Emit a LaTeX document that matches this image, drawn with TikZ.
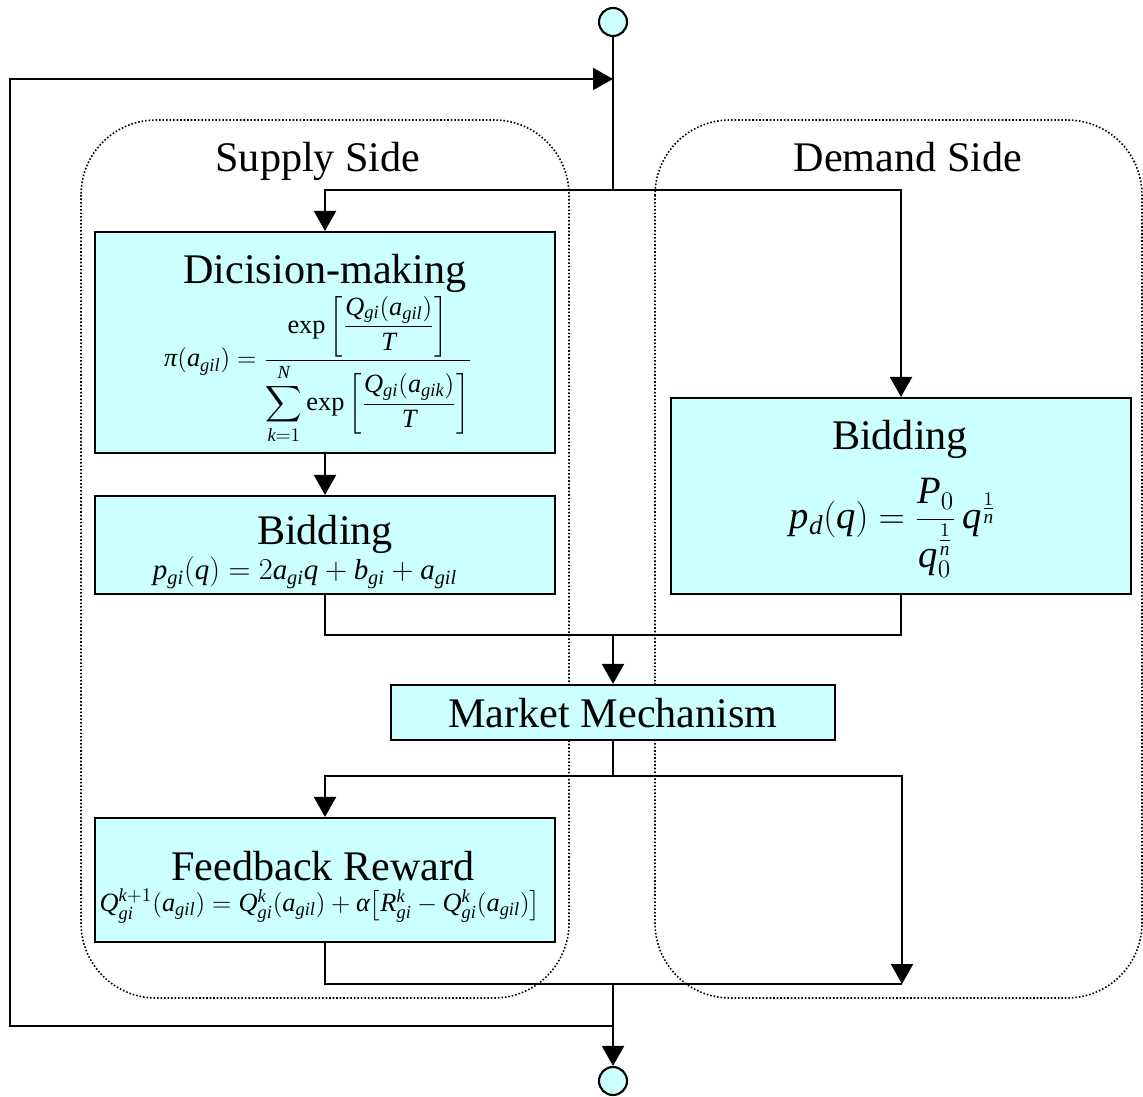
\documentclass[tikz,border=0pt]{standalone}
\usepackage{amsmath}
\usepackage{fontspec}
\setmainfont{Liberation Serif}
\usetikzlibrary{arrows.meta}
\definecolor{boxcyan}{HTML}{CCFFFF}
% italic letters from the serif text font
\newcommand\vi[1]{\mathit{#1}}
\newcommand\gpi{\text{\itshape π}}
\newcommand\galpha{\text{\itshape α}}
\tikzset{
  flow/.style={line width=1.2pt},
  arr/.style={flow, -{Triangle[length=0.4cm,width=0.44cm]}},
  stage/.style={draw, line width=1.2pt, fill=boxcyan, inner sep=0pt},
  side/.style={draw, line width=0.9pt, dash pattern=on 0.9pt off 1.1pt, rounded corners=1.5cm},
  heading/.style={font=\fontsize{24}{28}\selectfont, inner sep=0pt, anchor=base},
  formula/.style={inner sep=0pt}
}
\tikzset{
  term/.style={draw, line width=1.2pt, fill=boxcyan, circle, minimum size=0.56cm, inner sep=0pt}
}
\begin{document}
\begin{tikzpicture}[x=0.02cm, y=-0.02cm]
\useasboundingbox (0,0) rectangle (1143,1097);

% supply and demand regions
\draw[side] (81,120) rectangle (569,998);
\draw[side] (655,120) rectangle (1142,998);
\node[heading] (supplylbl) at (318,172) {Supply Side};
\node[heading] (demandlbl) at (908,172) {Demand Side};

% terminals
\node[term] (start) at (613,22) {};
\node[term] (end) at (613,1081) {};

% process boxes
\node[stage, minimum width=9.2cm, minimum height=4.42cm] (dm) at (325,342.5) {};
\node[stage, minimum width=9.2cm, minimum height=1.96cm] (sb) at (325,545) {};
\node[stage, minimum width=9.2cm, minimum height=3.92cm] (db) at (901,496) {};
\node[stage, minimum width=8.88cm, minimum height=1.1cm] (mm) at (613,712.5) {};
\node[stage, minimum width=9.2cm, minimum height=2.48cm] (fr) at (325,880) {};

% box contents
\node[heading] (dmtitle) at (325,284) {Dicision-making};
\node[formula, font=\fontsize{15}{17}\selectfont] (dmeq) at (318,370)
  {$\gpi(\vi{a}_{\vi{gil}})=\dfrac{\exp\left[\dfrac{\vi{Q}_{\vi{gi}}(\vi{a}_{\vi{gil}})}{\vi{T}}\right]}{\displaystyle\sum_{\vi{k}=1}^{\vi{N}}\exp\left[\dfrac{\vi{Q}_{\vi{gi}}(\vi{a}_{\vi{gik}})}{\vi{T}}\right]}$};
\node[heading] (sbtitle) at (325,545) {Bidding};
\node[formula, anchor=base, font=\fontsize{16.5}{19}\selectfont] (sbeq) at (305,580)
  {$\vi{p}_{\vi{gi}}(\vi{q})=2\vi{a}_{\vi{gi}}\vi{q}+\vi{b}_{\vi{gi}}+\vi{a}_{\vi{gil}}$};
\node[heading] (dbtitle) at (900,450) {Bidding};
\node[formula, font=\fontsize{22}{26}\selectfont] (dbeq) at (893,528)
  {$\vi{p}_{\vi{d}}(\vi{q})=\dfrac{\vi{P}_0}{\vi{q}_0^{\frac{1}{\vi{n}}}}\,\vi{q}^{\frac{1}{\vi{n}}}$};
\node[heading] (mmtitle) at (613,728) {Market Mechanism};
\node[heading] (frtitle) at (323,880) {Feedback Reward};
\node[formula, font=\fontsize{15}{17}\selectfont] (freq) at (320,906)
  {$\vi{Q}_{\vi{gi}}^{\vi{k}+1}(\vi{a}_{\vi{gil}})=\vi{Q}_{\vi{gi}}^{\vi{k}}(\vi{a}_{\vi{gil}})+\galpha\bigl[\vi{R}_{\vi{gi}}^{\vi{k}}-\vi{Q}_{\vi{gi}}^{\vi{k}}(\vi{a}_{\vi{gil}})\bigr]$};

% junction points
\coordinate (split1) at (613,190);
\coordinate (merge1) at (613,635);
\coordinate (split2) at (613,776);
\coordinate (join) at (902,984);
\coordinate (merge2) at (613,984);
\coordinate (tap) at (613,1026);
\coordinate (loopbl) at (10,1026);
\coordinate (looptl) at (10,79);
\coordinate (entry) at (613,79);

% connectors
\draw[flow] (start) -- (split1);
\draw[arr] (split1) -| (dm.north);
\draw[arr] (split1) -| (db.north);
\draw[arr] (dm) -- (sb);
\draw[flow] (sb.south) |- (merge1);
\draw[flow] (db.south) |- (merge1);
\draw[arr] (merge1) -- (mm);
\draw[flow] (mm) -- (split2);
\draw[arr] (split2) -| (fr.north);
\draw[arr] (split2) -| (join);
\draw[flow] (fr.south) |- (join);
\draw[arr] (merge2) -- (end);
\draw[arr] (tap) -- (loopbl) -- (looptl) -- (entry);
\end{tikzpicture}
\end{document}
